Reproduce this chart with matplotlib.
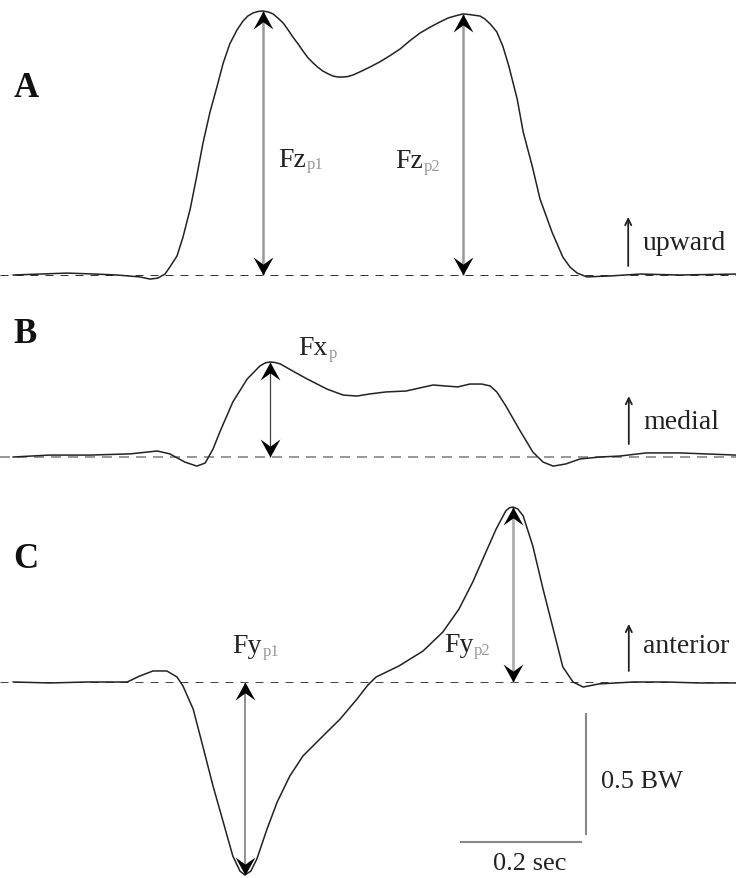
import numpy as np
import matplotlib.pyplot as plt
from matplotlib.path import Path

plt.rcParams['font.family'] = ['Liberation Serif', 'DejaVu Serif']

# vertical force (A), time in s, force in BW
t_fz = [0.022, 0.067, 0.112, 0.158, 0.195, 0.233, 0.25, 0.263, 0.275, 0.283,
        0.295, 0.305, 0.317, 0.328, 0.338, 0.35, 0.362, 0.372, 0.383, 0.395,
        0.405, 0.413, 0.422, 0.43, 0.438, 0.447, 0.455, 0.463, 0.472, 0.48,
        0.488, 0.497, 0.505, 0.513, 0.522, 0.53, 0.538, 0.547, 0.555, 0.563,
        0.572, 0.58, 0.588, 0.603, 0.617, 0.633, 0.65, 0.667, 0.683, 0.7,
        0.717, 0.733, 0.747, 0.758, 0.772, 0.783, 0.8, 0.808, 0.817, 0.828,
        0.838, 0.848, 0.862, 0.872, 0.887, 0.9, 0.92, 0.938, 0.95, 0.962,
        0.978, 1.017, 1.067, 1.133, 1.227]
fz = [0.0, 0.004, 0.008, 0.004, 0.0, -0.008, -0.017, -0.013, 0.004, 0.033,
      0.079, 0.158, 0.275, 0.413, 0.546, 0.679, 0.788, 0.883, 0.963, 1.021,
      1.058, 1.079, 1.092, 1.098, 1.1, 1.096, 1.088, 1.071, 1.05, 1.022,
      0.992, 0.962, 0.933, 0.906, 0.883, 0.865, 0.85, 0.838, 0.829, 0.825,
      0.825, 0.827, 0.833, 0.85, 0.867, 0.888, 0.914, 0.942, 0.976, 1.008,
      1.033, 1.054, 1.071, 1.079, 1.088, 1.085, 1.079, 1.067, 1.046, 1.013,
      0.954, 0.871, 0.733, 0.596, 0.454, 0.317, 0.179, 0.075, 0.033, 0.008,
      -0.008, -0.004, 0.004, 0.0, 0.004]

# medio-lateral force (B)
t_fx = [0.022, 0.083, 0.15, 0.217, 0.262, 0.283, 0.308, 0.328, 0.342, 0.355,
        0.367, 0.388, 0.412, 0.433, 0.442, 0.45, 0.458, 0.467, 0.488, 0.512,
        0.545, 0.572, 0.595, 0.617, 0.643, 0.677, 0.7, 0.722, 0.742, 0.763,
        0.783, 0.803, 0.817, 0.828, 0.843, 0.865, 0.888, 0.905, 0.922, 0.943,
        0.967, 1.0, 1.033, 1.077, 1.133, 1.175, 1.227]
fx = [0.0, 0.008, 0.008, 0.013, 0.025, 0.013, -0.021, -0.038, -0.025, 0.033,
      0.108, 0.229, 0.325, 0.379, 0.392, 0.396, 0.394, 0.388, 0.358, 0.325,
      0.283, 0.258, 0.254, 0.263, 0.271, 0.275, 0.288, 0.3, 0.296, 0.292,
      0.304, 0.304, 0.296, 0.271, 0.213, 0.117, 0.021, -0.021, -0.038, -0.029,
      -0.008, 0.0, 0.004, 0.017, 0.017, 0.013, 0.008]

# antero-posterior force (C)
t_fy = [0.022, 0.083, 0.145, 0.212, 0.233, 0.255, 0.278, 0.295, 0.305, 0.322,
        0.338, 0.355, 0.372, 0.388, 0.4, 0.408, 0.418, 0.428, 0.445, 0.462,
        0.483, 0.505, 0.533, 0.567, 0.595, 0.613, 0.627, 0.665, 0.705, 0.738,
        0.765, 0.788, 0.81, 0.827, 0.843, 0.849, 0.855, 0.863, 0.872, 0.888,
        0.905, 0.922, 0.938, 0.955, 0.972, 0.998, 1.055, 1.11, 1.165, 1.227]
fy = [0.0, -0.004, 0.0, 0.0, 0.025, 0.046, 0.046, 0.021, -0.017, -0.113,
      -0.267, -0.433, -0.583, -0.725, -0.788, -0.804, -0.788, -0.738, -0.613, -0.5,
      -0.392, -0.308, -0.238, -0.154, -0.071, -0.013, 0.021, 0.067, 0.129, 0.208,
      0.304, 0.417, 0.542, 0.638, 0.713, 0.726, 0.729, 0.721, 0.692, 0.567,
      0.388, 0.221, 0.063, 0.0, -0.021, -0.008, 0.0, 0.0, -0.004, -0.004]

W, H = 736, 879
PX_SEC, PX_BW = 600, 240

HEAD_UP = Path([(0, 0), (-0.55, -1), (0, -0.6), (0.55, -1), (0, 0)],
               [1, 2, 2, 2, 79])
HEAD_DOWN = Path([(0, 0), (-0.55, 1), (0, 0.6), (0.55, 1), (0, 0)],
                 [1, 2, 2, 2, 79])

fig = plt.figure(figsize=(W / 100, H / 100), dpi=100)


def panel(base, top, bottom):
    # base/top/bottom in pixels from the top of the figure
    ax = fig.add_axes([0, 1 - bottom / H, 1, (bottom - top) / H])
    ax.set_xlim(0, W / PX_SEC)
    ax.set_ylim((base - bottom) / PX_BW, (base - top) / PX_BW)
    ax.axis('off')
    return ax


def peak_arrow(ax, t, y0, y1, color, lw):
    lo, hi = min(y0, y1), max(y0, y1)
    ax.plot([t, t], [lo, hi], color=color, lw=lw, solid_capstyle='butt', zorder=2)
    ax.plot(t, hi, marker=HEAD_UP, ms=26, color='black', mew=0, zorder=4)
    ax.plot(t, lo, marker=HEAD_DOWN, ms=26, color='black', mew=0, zorder=4)


def label(ax, t, y, main, sub, size=20):
    txt = ax.text(t, y, main, fontsize=size, va='baseline', ha='left', color='#222222')
    ax.annotate(sub, xy=(1, 0), xycoords=txt, xytext=(0.5, 2.5),
                textcoords='offset points', fontsize=size * 0.6,
                color='#999999', va='baseline', ha='left')


def dir_arrow(ax, t, y0, y1, text, ty):
    ax.annotate('', xy=(t, y1), xytext=(t, y0),
                arrowprops=dict(arrowstyle='->,head_length=0.45,head_width=0.22',
                                lw=1.3, color='#222222', shrinkA=0, shrinkB=0))
    ax.text(t + 0.024, ty, text, fontsize=20, va='baseline', ha='left',
            color='#222222')


def panel_letter(ax, y, letter):
    ax.text(0.022, y, letter, fontsize=25, fontweight='bold', va='baseline',
            ha='left', color='#111111')


# ---- A: vertical ----
axA = panel(276, 0, 290)
axA.axhline(0, color='#333333', lw=0.72, dashes=(8, 7), zorder=1)
axA.plot(t_fz, fz, color='#222222', lw=1.1, zorder=3, solid_joinstyle='round')
fz_a = np.array(fz)
tz = np.array(t_fz)
first = tz < 0.6
i1 = np.argmax(np.where(first, fz_a, -9))
i2 = np.argmax(np.where(~first, fz_a, -9))
peak_arrow(axA, tz[i1], 0, fz_a[i1], '#999999', 1.8)
peak_arrow(axA, tz[i2], 0, fz_a[i2], '#999999', 1.8)
label(axA, 0.463, 0.456, 'Fz', 'p1')
label(axA, 0.658, 0.45, 'Fz', 'p2')
dir_arrow(axA, 1.047, 0.0375, 0.242, 'upward', 0.108)
panel_letter(axA, 0.746, 'A')

# ---- B: medial ----
axB = panel(458, 290, 480)
axB.axhline(0, color='#999999', lw=1.44, dashes=(5, 3.5), zorder=1)
axB.plot(t_fx, fx, color='#222222', lw=1.1, zorder=3, solid_joinstyle='round')
ix = int(np.argmax(fx))
peak_arrow(axB, t_fx[ix], 0, fx[ix], '#444444', 0.9)
label(axB, 0.497, 0.429, 'Fx', 'p')
dir_arrow(axB, 1.048, 0.054, 0.254, 'medial', 0.121)
panel_letter(axB, 0.479, 'B')

# ---- C: anterior ----
axC = panel(683, 480, 879)
axC.axhline(0, color='#444444', lw=0.72, dashes=(8, 7), zorder=1)
axC.plot(t_fy, fy, color='#222222', lw=1.1, zorder=3, solid_joinstyle='round')
imin = int(np.argmin(fy))
imax = int(np.argmax(fy))
peak_arrow(axC, t_fy[imin], 0, fy[imin], '#888888', 1.3)
peak_arrow(axC, t_fy[imax], 0, fy[imax], '#aaaaaa', 1.9)
label(axC, 0.387, 0.125, 'Fy', 'p1')
label(axC, 0.74, 0.129, 'Fy', 'p2')
dir_arrow(axC, 1.048, 0.046, 0.242, 'anterior', 0.125)
panel_letter(axC, 0.479, 'C')

# scale bars
axC.plot([0.977, 0.977], [-0.133, -0.633], color='#888888', lw=1.5, clip_on=False)
axC.plot([0.768, 0.968], [-0.667, -0.667], color='#888888', lw=1.5, clip_on=False)
axC.text(1.002, -0.4375, '0.5 BW', fontsize=19, va='baseline', ha='left', color='#222222')
axC.text(0.883, -0.779, '0.2 sec', fontsize=19, va='baseline', ha='center', color='#222222')

fig.savefig('out.png', dpi=100)
